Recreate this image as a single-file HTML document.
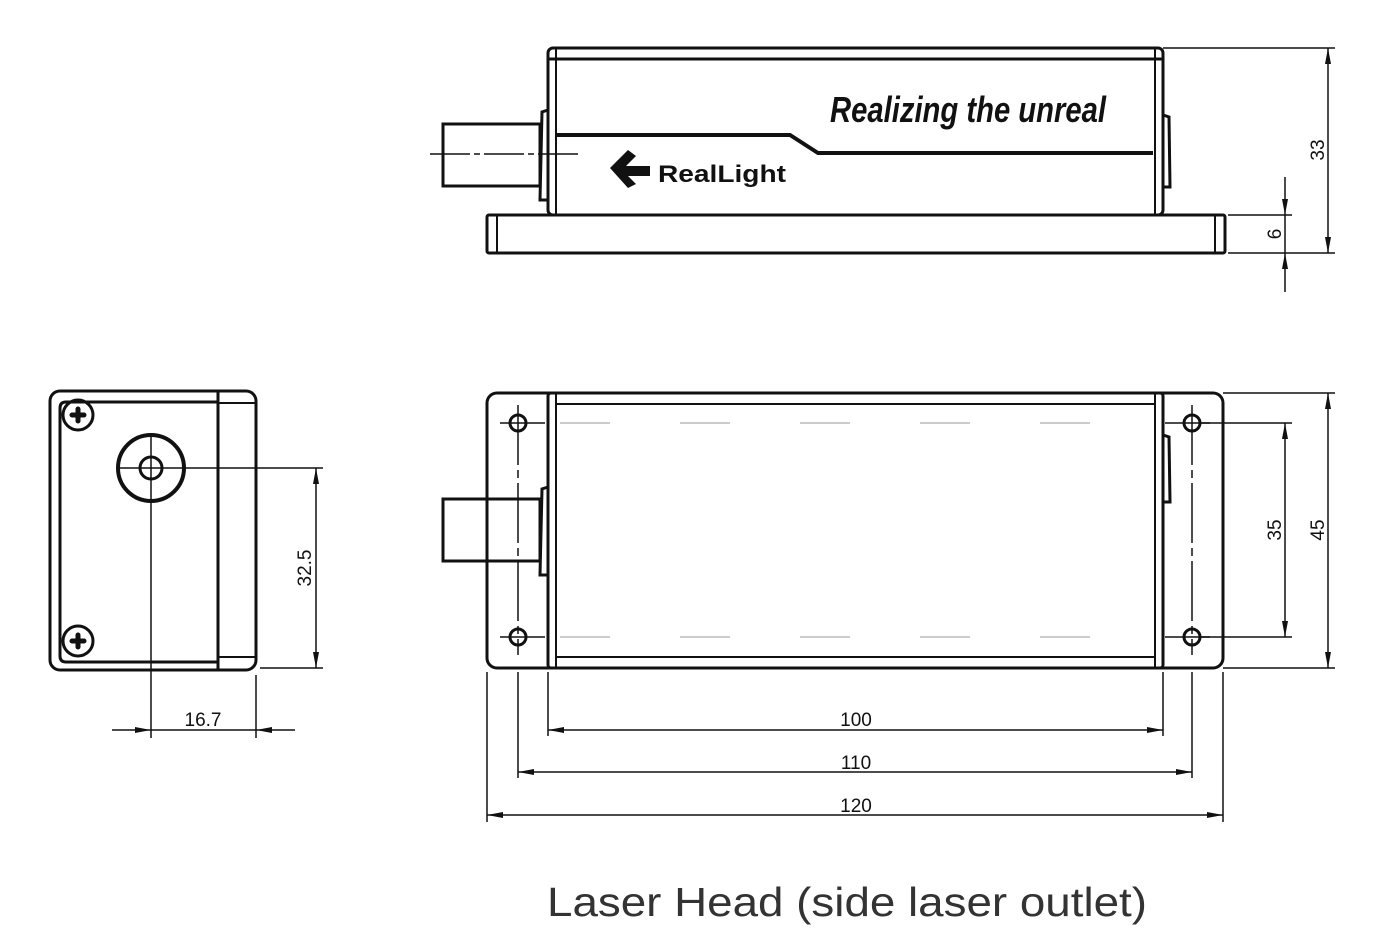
<!DOCTYPE html>
<html><head><meta charset="utf-8"><style>
html,body{margin:0;padding:0;background:#fff;width:1387px;height:935px;overflow:hidden}
svg{display:block}
text{font-family:"Liberation Sans",sans-serif;fill:#111}
</style></head><body>
<svg width="1387" height="935" viewBox="0 0 1387 935">
<defs>
<marker id="a" viewBox="0 0 16 6" refX="16" refY="3" markerWidth="16" markerHeight="6" orient="auto-start-reverse" markerUnits="userSpaceOnUse"><path d="M0,0 L16,3 L0,6 z" fill="#111"/></marker>
</defs>
<g fill="none" stroke="#111" stroke-width="3">
<!-- top view -->
<rect x="548" y="48" width="615" height="167" rx="5"/>
<line x1="548" y1="59" x2="1163" y2="59"/>
<line x1="556" y1="48" x2="556" y2="215" stroke-width="2"/>
<line x1="1155" y1="48" x2="1155" y2="215" stroke-width="2"/>
<polyline points="556,135 790,135 818,153 1153,153" stroke-width="4"/>
<rect x="487" y="215" width="738" height="38" rx="2"/>
<line x1="497" y1="215" x2="497" y2="253" stroke-width="2"/>
<line x1="1215" y1="215" x2="1215" y2="253" stroke-width="2"/>
<rect x="443" y="124" width="97" height="62"/>
<path d="M548,110 L542,112 L540,200 L548,200"/>
<path d="M1163,115 L1169,117 L1170,187 L1163,187"/>
<!-- bottom main -->
<rect x="487" y="393" width="736" height="275" rx="10"/>
<rect x="548" y="393" width="615" height="275" rx="3"/>
<line x1="556" y1="393" x2="556" y2="668" stroke-width="2"/>
<line x1="1155" y1="393" x2="1155" y2="668" stroke-width="2"/>
<line x1="556" y1="404" x2="1155" y2="404" stroke-width="2"/>
<line x1="556" y1="657" x2="1155" y2="657" stroke-width="2"/>
<rect x="443" y="499" width="97" height="62"/>
<path d="M548,487 L542,489 L540,575 L548,575"/>
<path d="M1163,435 L1169,437 L1170,502 L1163,502"/>
<circle cx="518" cy="423" r="8"/><circle cx="1192" cy="423" r="8"/>
<circle cx="518" cy="637" r="8"/><circle cx="1192" cy="637" r="8"/>
<!-- left view -->
<rect x="50" y="391" width="206" height="279" rx="10"/>
<path d="M218,402 L66,402 Q60,402 60,408 L60,656 Q60,662 66,662 L218,662 Z"/>
<line x1="218" y1="391" x2="218" y2="670"/>
<line x1="218" y1="403" x2="256" y2="403" stroke-width="2"/>
<line x1="218" y1="657" x2="256" y2="657" stroke-width="2"/>
<circle cx="78" cy="415" r="15"/><circle cx="78" cy="641" r="15"/>
<circle cx="151" cy="468" r="33" stroke-width="4"/>
<circle cx="151" cy="468" r="11"/>
</g>
<g stroke="#111" stroke-width="5" stroke-linecap="round">
<path d="M72,415 H84 M78,409 V421"/>
<path d="M72,641 H84 M78,635 V647"/>
</g>
<!-- centerlines -->
<g stroke="#111" stroke-width="1.5" fill="none">
<line x1="430" y1="154" x2="580" y2="154" stroke-dasharray="40,4,6,4"/>
<line x1="500" y1="423" x2="545" y2="423"/>
<line x1="1165" y1="423" x2="1210" y2="423"/>
<line x1="500" y1="637" x2="545" y2="637"/>
<line x1="1165" y1="637" x2="1210" y2="637"/>
<line x1="560" y1="423" x2="1150" y2="423" stroke="#bbb" stroke-dasharray="50,70"/>
<line x1="560" y1="637" x2="1150" y2="637" stroke="#bbb" stroke-dasharray="50,70"/>
<line x1="518" y1="405" x2="518" y2="655" stroke-dasharray="60,5,8,5"/>
<line x1="1192" y1="405" x2="1192" y2="655" stroke-dasharray="60,5,8,5"/>
<line x1="518" y1="672" x2="518" y2="778"/>
<line x1="1192" y1="672" x2="1192" y2="778"/>
<line x1="151" y1="436" x2="151" y2="738"/>
<line x1="118" y1="468" x2="323" y2="468"/>
<!-- extension lines -->
<line x1="1163" y1="48" x2="1335" y2="48"/>
<line x1="1228" y1="253" x2="1335" y2="253"/>
<line x1="1228" y1="215" x2="1292" y2="215"/>
<line x1="1223" y1="393" x2="1335" y2="393"/>
<line x1="1223" y1="668" x2="1335" y2="668"/>
<line x1="1200" y1="423" x2="1292" y2="423"/>
<line x1="1200" y1="637" x2="1292" y2="637"/>
<line x1="487" y1="672" x2="487" y2="822"/>
<line x1="548" y1="672" x2="548" y2="736"/>
<line x1="1163" y1="672" x2="1163" y2="736"/>
<line x1="1223" y1="672" x2="1223" y2="822"/>
<line x1="256" y1="675" x2="256" y2="738"/>
<line x1="260" y1="668" x2="323" y2="668"/>
</g>
<!-- dimension lines -->
<g stroke="#111" stroke-width="1.5" fill="none" marker-start="url(#a)" marker-end="url(#a)">
<line x1="1328" y1="48" x2="1328" y2="253"/>
<line x1="1328" y1="393" x2="1328" y2="668"/>
<line x1="1285" y1="423" x2="1285" y2="637"/>
<line x1="548" y1="730" x2="1163" y2="730"/>
<line x1="518" y1="772" x2="1192" y2="772"/>
<line x1="487" y1="815" x2="1223" y2="815"/>
<line x1="316" y1="468" x2="316" y2="668"/>
</g>
<g stroke="#111" stroke-width="1.5" fill="none" marker-end="url(#a)">
<line x1="1285" y1="177" x2="1285" y2="215"/>
<line x1="1285" y1="292" x2="1285" y2="253"/>
<line x1="112" y1="730" x2="151" y2="730"/>
<line x1="295" y1="730" x2="256" y2="730"/>
</g>
<line x1="1285" y1="215" x2="1285" y2="253" stroke="#111" stroke-width="1.5"/>
<line x1="151" y1="730" x2="256" y2="730" stroke="#111" stroke-width="1.5"/>
<g font-size="19">
<text x="856" y="726" text-anchor="middle">100</text>
<text x="856" y="769" text-anchor="middle">110</text>
<text x="856" y="812" text-anchor="middle">120</text>
<text x="203" y="726" text-anchor="middle">16.7</text>
<text transform="translate(1324,150) rotate(-90)" text-anchor="middle">33</text>
<text transform="translate(1281,234) rotate(-90)" text-anchor="middle">6</text>
<text transform="translate(1281,530) rotate(-90)" text-anchor="middle">35</text>
<text transform="translate(1324,530) rotate(-90)" text-anchor="middle">45</text>
<text transform="translate(311,568) rotate(-90)" text-anchor="middle">32.5</text>
</g>
<text x="830" y="122" font-family="Liberation Serif,serif" font-style="italic" font-weight="bold" font-size="36" textLength="276" lengthAdjust="spacingAndGlyphs">Realizing the unreal</text>
<path d="M610,168 L628,150 L636,156 L626,166 L650,166 L650,176 L628,176 L636,184 L628,188 Z" fill="#111"/>
<text x="658" y="182" font-weight="bold" font-size="24" textLength="128" lengthAdjust="spacingAndGlyphs">RealLight</text>
<text x="547" y="916" font-size="41" textLength="600" lengthAdjust="spacingAndGlyphs" style="fill:#333">Laser Head (side laser outlet)</text>
</svg>
</body></html>
